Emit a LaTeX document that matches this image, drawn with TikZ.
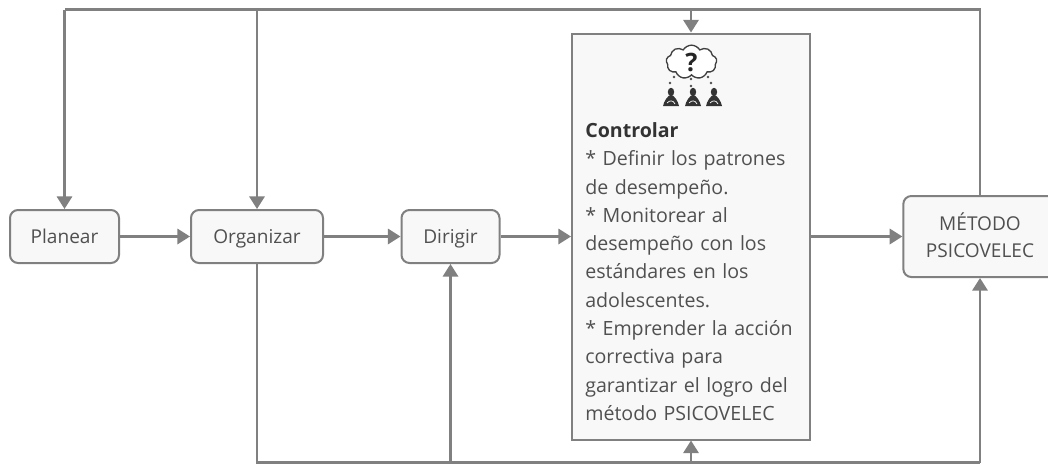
\documentclass[tikz,border=0pt]{standalone}
\usepackage{fontspec}
\setmainfont{Open Sans}
\usetikzlibrary{arrows.meta,shapes.symbols,calc}
\definecolor{linegray}{HTML}{808080}
\definecolor{boxfill}{HTML}{F8F8F8}
\definecolor{txt}{HTML}{505050}
\tikzset{
  every node/.style={font=\fontsize{14.3}{20.25}\selectfont,text=txt},
  flowbox/.style={draw=linegray,line width=1.5pt,fill=boxfill,rounded corners=6pt,align=center,inner sep=0pt,text height=10.2pt,text depth=0pt},
  textbox/.style={draw=linegray,line width=1.5pt,fill=boxfill,inner sep=0pt},
  conn/.style={draw=linegray,line width=1.8pt},
  arrowconn/.style={conn,-{Triangle[length=9.5pt,width=11.5pt]}},
  person/.style={fill=black!80,draw=none}
}
\newcommand{\personicon}[2]{%
  \fill[person] (#1,#2-14) ellipse[x radius=3.2,y radius=4.2];
  \fill[person] (#1-8,#2) .. controls (#1-7,#2-5) and (#1-3,#2-11) .. (#1,#2-11)
     .. controls (#1+3,#2-11) and (#1+7,#2-5) .. (#1+8,#2) -- cycle;
  \draw[white,line width=0.5pt] (#1-4,#2-3) .. controls (#1-1,#2-6) and (#1+2,#2-6) .. (#1+4,#2-2);
}
\begin{document}
\begin{tikzpicture}[x=0.75pt,y=-0.75pt]
\useasboundingbox (0,0) rectangle (1048,464);
\begin{scope}
\clip (0,0) rectangle (1048,464);
\node[flowbox,minimum width=81.75pt,minimum height=39.75pt] (plan) at (64.5,236.5) {Planear};
\node[flowbox,minimum width=99pt,minimum height=39.75pt] (org) at (257,236.5) {Organizar};
\node[flowbox,minimum width=73.5pt,minimum height=39.75pt] (dir) at (450.5,236.5) {Dirigir};
\node[textbox,minimum width=178.5pt,minimum height=304.5pt] (ctrl) at (691,236.5) {};
\node[flowbox,minimum width=115pt,minimum height=60.75pt,text height=30.8pt] (met) at (980,236.5) {MÉTODO\\PSICOVELEC};
\end{scope}
\node[anchor=north west,align=left,inner sep=0pt,text width=172pt,font=\fontsize{14.7}{21.2}\selectfont] (ctrltext) at (585,122.5) {%
\textcolor{black!80}{\textbf{Controlar}}\\
{}* Definir los patrones\\
de desempeño.\\
{}* Monitorear al\\
desempeño con los\\
estándares en los\\
adolescentes.\\
{}* Emprender la acción\\
correctiva para\\
garantizar el logro del\\
método PSICOVELEC};
% icon
\node[cloud,cloud puffs=9,cloud puff arc=120,aspect=1.7,draw=black!75,line width=1pt,fill=white,minimum width=38pt,minimum height=21pt,inner sep=0pt,font=\fontsize{19}{19}\selectfont\bfseries,text=black!85] (cloudicon) at (691.5,62) {?};
\foreach \x/\y in {674/77,670/83,691/79,691/86,708/77,711/83}{\fill[black!70] (\x,\y) circle[radius=1.3];}
\personicon{671}{106}
\personicon{693}{106}
\personicon{714}{106}
% buses
\coordinate (tr) at (980,9.5);
\coordinate (tl) at (64.5,9.5);
\coordinate (torg) at (org.north |- tr);
\coordinate (tctrl) at (ctrl.north |- tr);
\coordinate (br) at (980,462.5);
\coordinate (borg) at (org.south |- br);
\coordinate (bdir) at (dir.south |- br);
\coordinate (bctrl) at (ctrl.south |- br);
\draw[conn] (met.north -| tr) -- (tr) -- (tl);
\draw[arrowconn] (tl) -- (tl |- plan.north);
\draw[arrowconn] (torg) -- (org.north);
\draw[arrowconn] (tctrl) -- (ctrl.north);
\draw[arrowconn] (plan.east) -- (org.west);
\draw[arrowconn] (org.east) -- (dir.west);
\draw[arrowconn] (dir.east) -- (ctrl.west);
\draw[arrowconn] (ctrl.east) -- (met.west);
\draw[conn] (org.south) -- (borg) -- (br);
\draw[arrowconn] (br) -- (br |- met.south);
\draw[arrowconn] (bdir) -- (dir.south);
\draw[arrowconn] (bctrl) -- (ctrl.south);
\end{tikzpicture}
\end{document}
